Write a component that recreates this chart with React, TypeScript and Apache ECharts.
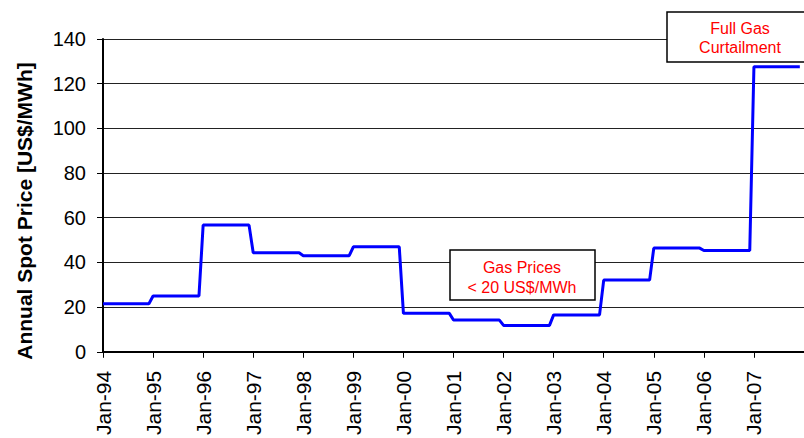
import React, { useEffect, useRef } from "react";
import * as echarts from "echarts";

// Year labels (Jan-YY) and annual spot price levels, US$/MWh
const yearLabels = ["94", "95", "96", "97", "98", "99", "00", "01", "02", "03", "04", "05", "06", "07"];
const annualPrice = [21.5, 25.0, 56.7, 44.3, 43.0, 47.0, 17.2, 14.2, 11.8, 16.5, 32.1, 46.4, 45.3, 127.6];
const yTickValues = [0, 20, 40, 60, 80, 100, 120, 140];
const yAxisTitle = "Annual Spot Price [US$/MWh]";
const noteGas = ["Gas Prices", "< 20 US$/MWh"];
const noteCurtail = ["Full Gas", "Curtailment"];

const FONT = "'Liberation Sans', Arial, Helvetica, sans-serif";

export default function App() {
  const ref = useRef<HTMLDivElement>(null);

  useEffect(() => {
    if (!ref.current) return;
    const chart = echarts.init(ref.current, null, { renderer: "svg" });

    // Each year's level holds from January through December (month index)
    const lineData: [number, number][] = [];
    annualPrice.forEach((v, i) => {
      lineData.push([12 * i, v]);
      lineData.push([12 * i + 11, v]);
    });

    const box = (x: number, y: number, w: number, h: number, lines: string[], cx: number, y1: number, y2: number) => ({
      type: "group",
      children: [
        {
          type: "rect",
          shape: { x, y, width: w, height: h },
          style: { fill: "#fff", stroke: "#000", lineWidth: 1.5 },
          z: 100,
        },
        {
          type: "text",
          x: cx,
          y: y1,
          style: { text: lines[0], fill: "#ff0000", font: `16px ${FONT}`, textAlign: "center", textVerticalAlign: "middle" },
          z: 101,
        },
        {
          type: "text",
          x: cx,
          y: y2,
          style: { text: lines[1], fill: "#ff0000", font: `16px ${FONT}`, textAlign: "center", textVerticalAlign: "middle" },
          z: 101,
        },
      ],
    });

    chart.setOption({
      animation: false,
      backgroundColor: "#fff",
      grid: { left: 103, top: 39, right: -2, bottom: 84, containLabel: false },
      xAxis: {
        type: "value",
        min: 0,
        max: 12 * yearLabels.length,
        interval: 12,
        axisLine: { show: true, onZero: false, lineStyle: { color: "#000", width: 2 } },
        axisTick: { show: true, length: 6, lineStyle: { color: "#000", width: 1 } },
        splitLine: { show: false },
        axisLabel: {
          rotate: 90,
          margin: 19,
          fontSize: 21,
          fontFamily: FONT,
          color: "#000",
          showMaxLabel: false,
          formatter: (v: number) => {
            const i = Math.round(v / 12);
            return i < yearLabels.length ? "Jan-" + yearLabels[i] : "";
          },
        },
      },
      yAxis: {
        type: "value",
        min: yTickValues[0],
        max: yTickValues[yTickValues.length - 1],
        interval: 20,
        axisLine: { show: true, lineStyle: { color: "#000", width: 2 } },
        axisTick: { show: true, length: 6, lineStyle: { color: "#000", width: 1 } },
        splitLine: { show: true, lineStyle: { color: "#222", width: 1 } },
        axisLabel: { margin: 17, fontSize: 20, fontFamily: FONT, color: "#000" },
      },
      series: [
        {
          type: "line",
          data: lineData,
          showSymbol: false,
          symbol: "none",
          lineStyle: { color: "#0000ff", width: 3 },
          itemStyle: { color: "#0000ff" },
          z: 5,
        },
      ],
      graphic: [
        {
          type: "text",
          x: 24,
          y: 211,
          rotation: Math.PI / 2,
          style: {
            text: yAxisTitle,
            fill: "#000",
            font: `bold 21px ${FONT}`,
            textAlign: "center",
            textVerticalAlign: "middle",
          },
        },
        box(450, 250, 145, 50, noteGas, 522, 267, 287),
        box(667, 12, 148, 50, noteCurtail, 740, 28, 47),
      ],
    });

    return () => chart.dispose();
  }, []);

  return (
    <div
      ref={ref}
      style={{ position: "absolute", left: 0, top: 0, width: 804, height: 438, overflow: "hidden" }}
    />
  );
}
